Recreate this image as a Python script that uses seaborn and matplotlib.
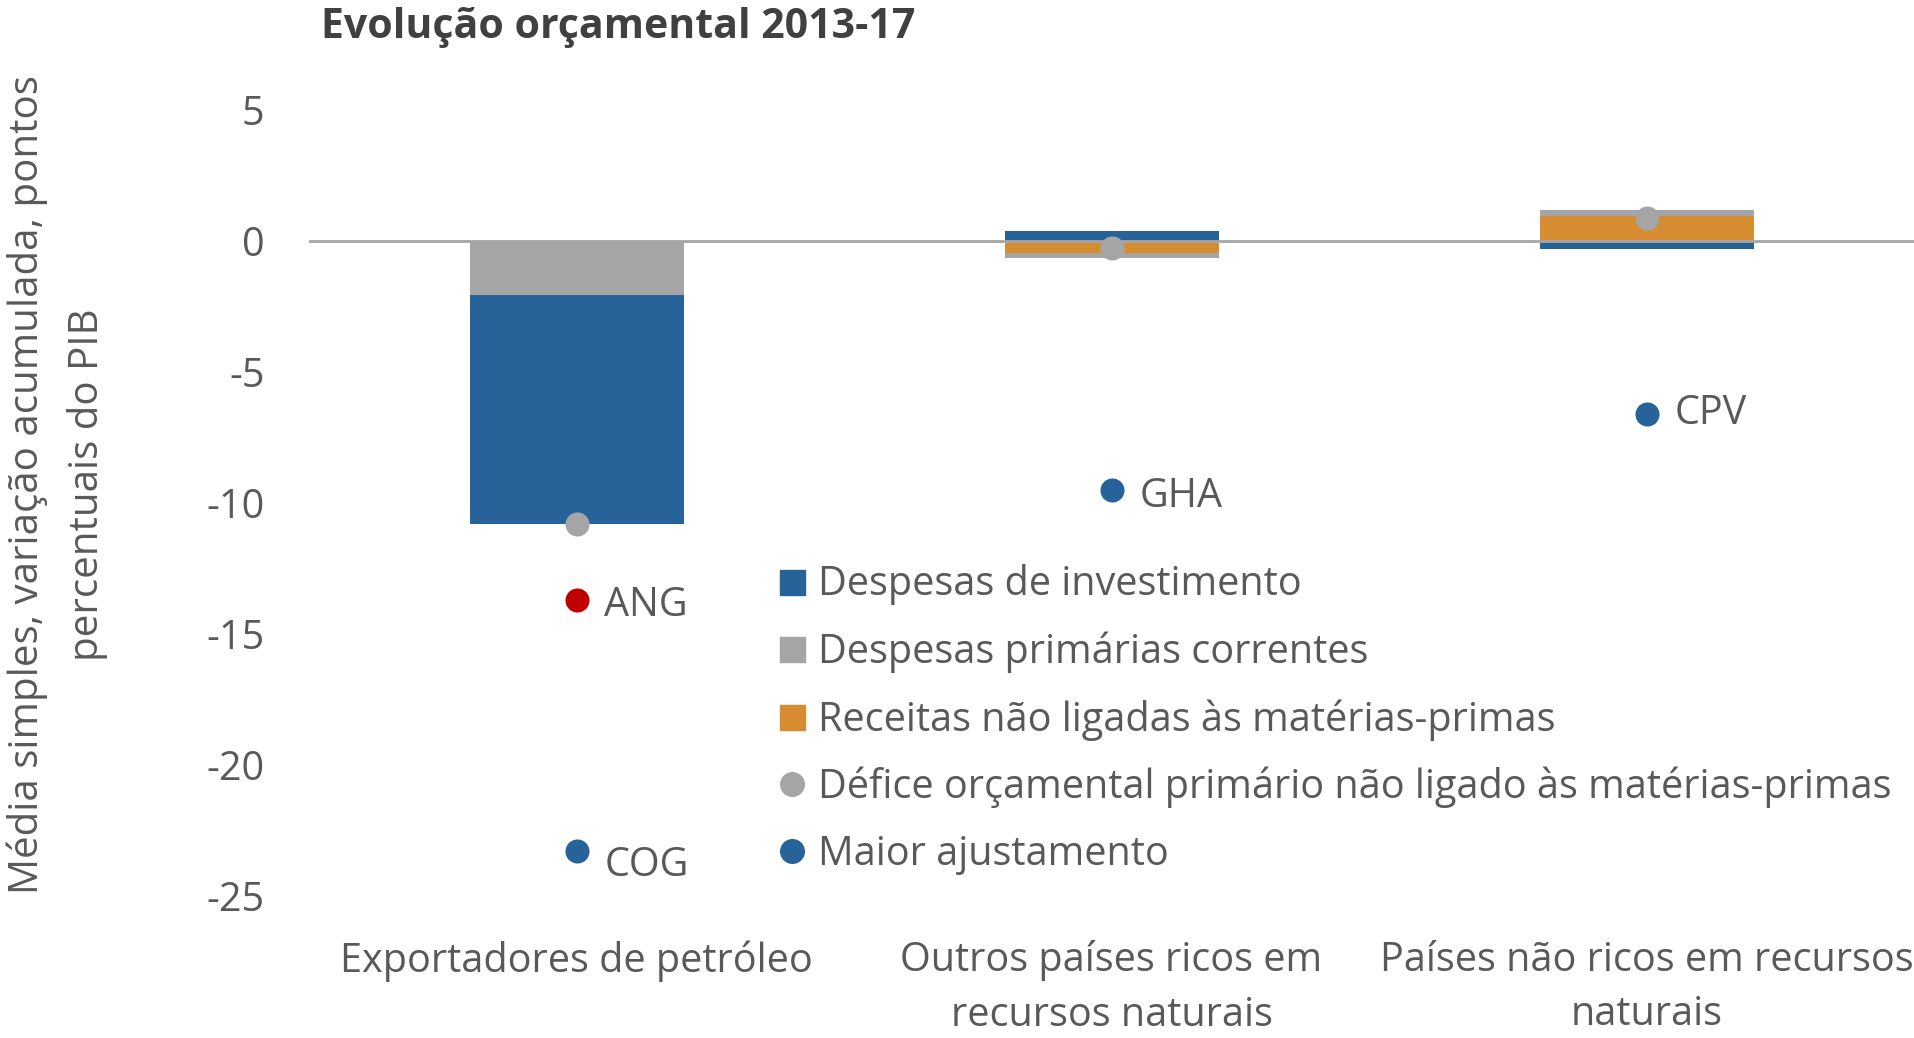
import numpy as np
import matplotlib
matplotlib.use("Agg")
import matplotlib.pyplot as plt
from matplotlib.lines import Line2D
import seaborn as sns

categories = ["Exportadores de petróleo",
              "Outros países ricos em\nrecursos naturais",
              "Países não ricos em recursos\nnaturais"]
invest = [-8.75, 0.38, -0.29]
current = [-2.05, -0.20, 0.23]
revenue = [0.0, -0.45, 0.94]
deficit = [-10.8, -0.27, 0.88]

adj_labels = ["ANG", "COG", "GHA", "CPV"]
adj_cat = [0, 0, 1, 2]
adj_values = [-13.7, -23.3, -9.5, -6.6]

y_ticks = [5, 0, -5, -10, -15, -20, -25]

BLUE = "#276399"
GRAY = "#a5a5a5"
ORANGE = "#d68d32"
RED = "#c00000"
TXT = "#595959"
FS = 28.5

sns.set_style("white")
plt.rcParams['font.family'] = ['Open Sans', 'DejaVu Sans']

fig = plt.figure(figsize=(19.14, 10.38), dpi=100)
ax = fig.add_axes([309/1914, 1-896/1038, 1-309/1914, (896-110)/1038])

pos = np.zeros(3)
neg = np.zeros(3)
for vals, col in [(revenue, ORANGE), (current, GRAY), (invest, BLUE)]:
    v = np.array(vals, dtype=float)
    bottom = np.where(v >= 0, pos, neg)
    sns.barplot(x=list(range(3)), y=v, bottom=bottom, color=col, width=0.4,
                saturation=1, linewidth=0, edgecolor="none", ax=ax, zorder=2,
                native_scale=True)
    pos = pos + np.where(v >= 0, v, 0)
    neg = neg + np.where(v < 0, v, 0)

ax.axhline(0, color="#a6a6a6", lw=2, zorder=3)

sns.scatterplot(x=list(range(3)), y=deficit, color=GRAY, s=300, linewidth=0,
                ax=ax, zorder=4, legend=False)
adj_colors = [RED, BLUE, BLUE, BLUE]
label_dy = [-4, -10, -5, 0]
for xi, yi, c, lab, dy in zip(adj_cat, adj_values, adj_colors, adj_labels, label_dy):
    ax.scatter([xi], [yi], color=c, s=300, linewidth=0, zorder=4)
    ax.annotate(lab, (xi, yi), xytext=(20, dy), textcoords="offset points",
                ha="left", va="center", fontsize=FS, color=TXT)

ax.set_xlim(-0.5, 2.5)
ax.set_ylim(-25, 5)
ax.set_yticks(y_ticks)
ax.set_yticklabels([str(t) for t in y_ticks])
ax.set_xticks(range(3))
ax.set_xticklabels(categories, linespacing=1.45)
ax.tick_params(axis="y", labelsize=FS, labelcolor=TXT, length=0, pad=32)
ax.tick_params(axis="x", labelsize=FS, labelcolor=TXT, length=0, pad=32)
for s in ax.spines.values():
    s.set_visible(False)
ax.set_xlabel("")
ax.set_ylabel("")

fig.text(57/1914, 1-485/1038,
         "Média simples, variação acumulada, pontos\npercentuais do PIB",
         rotation=90, ha="center", va="center", fontsize=29, color=TXT,
         linespacing=1.62)
fig.text(321/1914, 1-27/1038, "Evolução orçamental 2013-17", ha="left",
         va="center", fontsize=29.5, fontweight="bold", color="#404040")

handles = [
    Line2D([], [], marker="s", linestyle="none", markersize=18, color=BLUE),
    Line2D([], [], marker="s", linestyle="none", markersize=18, color=GRAY),
    Line2D([], [], marker="s", linestyle="none", markersize=18, color=ORANGE),
    Line2D([], [], marker="o", linestyle="none", markersize=17, color=GRAY),
    Line2D([], [], marker="o", linestyle="none", markersize=17, color=BLUE),
]
labels = ["Despesas de investimento", "Despesas primárias correntes",
          "Receitas não ligadas às matérias-primas",
          "Défice orçamental primário não ligado às matérias-primas",
          "Maior ajustamento"]
leg = ax.legend(handles, labels, loc="upper left",
                bbox_to_anchor=(0.2812, 0.442), frameon=False, fontsize=FS,
                labelspacing=0.66, handletextpad=0.26, handlelength=0.8,
                borderaxespad=0, labelcolor=TXT)

fig.savefig("out.png", dpi=100)
